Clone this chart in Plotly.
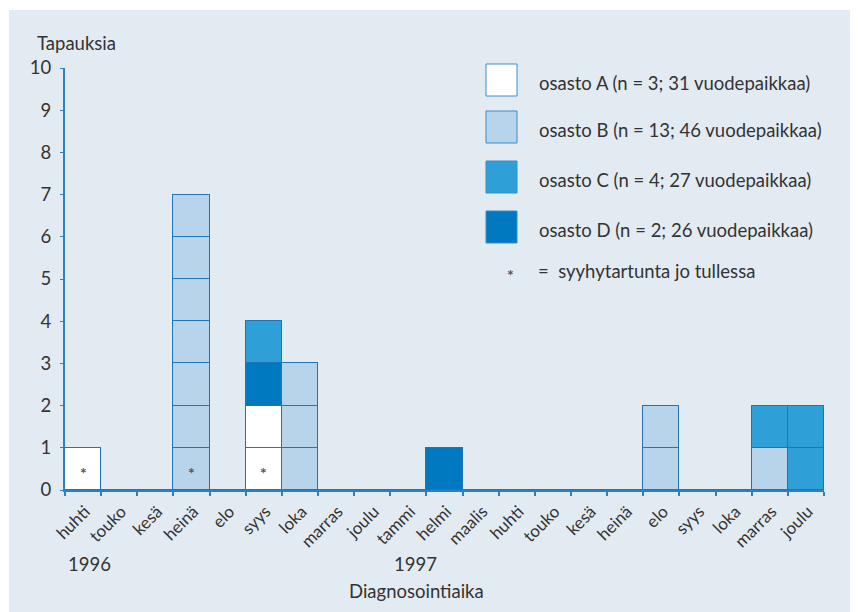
import plotly.graph_objects as go

# ---------------- data ----------------
months = ["huhti", "touko", "kesä", "heinä", "elo", "syys", "loka", "marras", "joulu",
          "tammi", "helmi", "maalis", "huhti", "touko", "kesä", "heinä", "elo", "syys",
          "loka", "marras", "joulu"]
years = ["1996"] * 9 + ["1997"] * 12
categories = [f"{y}-{m}" for y, m in zip(years, months)]

osasto_A = [1, 0, 0, 0, 0, 2, 0, 0, 0, 0, 0, 0, 0, 0, 0, 0, 0, 0, 0, 0, 0]
osasto_B = [0, 0, 0, 7, 0, 0, 3, 0, 0, 0, 0, 0, 0, 0, 0, 0, 2, 0, 0, 1, 0]
osasto_C = [0, 0, 0, 0, 0, 1, 0, 0, 0, 0, 0, 0, 0, 0, 0, 0, 0, 0, 0, 1, 2]
osasto_D = [0, 0, 0, 0, 0, 1, 0, 0, 0, 0, 1, 0, 0, 0, 0, 0, 0, 0, 0, 0, 0]

# months with a case infected already on arrival (asterisk in the bottom cell)
infected_on_arrival = ["1996-huhti", "1996-heinä", "1996-syys"]

legend_names = ["osasto A (n = 3; 31 vuodepaikkaa)",
                "osasto B (n = 13; 46 vuodepaikkaa)",
                "osasto C (n = 4; 27 vuodepaikkaa)",
                "osasto D (n = 2; 26 vuodepaikkaa)"]
legend_note = "=  syyhytartunta jo tullessa"

# ---------------- style ----------------
W, H = 858, 612
OX, OY = 8, 8                      # page offset of the figure (body margin)
L, R, T, B = 57, 42, 60, 130
PW, PH = W - L - R, H - T - B
BG = "#e3ebf2"
AXIS = "#2b7fc3"
EDGE = "#2274b9"
TXT = "#333333"
FONT = "Lato"
FS = 18.5
col = {"A": "#ffffff", "B": "#b8d4eb", "C": "#2ea0d7", "D": "#0079c1"}


def px(x):
    return (x - OX - L) / PW


def py(y):
    return (H - B - (y - OY)) / PH


fig = go.Figure()

# stack order bottom->top: A, B, D, C ; each department split into unit cells
for key, counts in [("A", osasto_A), ("B", osasto_B), ("D", osasto_D), ("C", osasto_C)]:
    for layer in range(max(counts)):
        vals = [1 if c > layer else 0 for c in counts]
        fig.add_trace(go.Bar(
            x=categories, y=vals, marker=dict(color=col[key], line=dict(color=EDGE, width=1)),
            showlegend=False, hoverinfo="skip", width=1.0))

for cat in infected_on_arrival:
    fig.add_annotation(x=cat, y=0.5, xref="x", yref="y", text="<b>*</b>", showarrow=False,
                       yshift=-4, font=dict(family=FONT, size=16, color="#555555"))

# background panel
fig.add_shape(type="rect", xref="paper", yref="paper", x0=px(9), x1=px(W + 20),
              y0=py(H + 20), y1=py(10), fillcolor=BG, line=dict(width=0), layer="below")

# legend
sw_tops = [64, 111, 161, 211]
for name, key, top in zip(legend_names, ["A", "B", "C", "D"], sw_tops):
    fig.add_shape(type="rect", xref="paper", yref="paper", x0=px(486), x1=px(517),
                  y0=py(top + 32), y1=py(top), fillcolor=col[key],
                  line=dict(color="#3a8cc9", width=1), layer="above")
    fig.add_annotation(xref="paper", yref="paper", x=px(537), y=py(top + 19), text=name,
                       showarrow=False, xanchor="left", yanchor="middle",
                       font=dict(family=FONT, size=FS, color=TXT))
fig.add_annotation(xref="paper", yref="paper", x=px(510), y=py(270), text="<b>*</b>",
                   showarrow=False, xanchor="center", yanchor="middle", yshift=-4,
                   font=dict(family=FONT, size=16, color="#555555"))
fig.add_annotation(xref="paper", yref="paper", x=px(536), y=py(271), text=legend_note,
                   showarrow=False, xanchor="left", yanchor="middle",
                   font=dict(family=FONT, size=FS, color=TXT))

# titles / year labels
fig.add_annotation(xref="paper", yref="paper", x=px(35), y=py(43), text="Tapauksia",
                   showarrow=False, xanchor="left", yanchor="middle",
                   font=dict(family=FONT, size=FS, color=TXT))
fig.add_annotation(xref="x", yref="paper", x="1996-huhti", xshift=6, y=py(564), text="1996",
                   showarrow=False, xanchor="center", yanchor="middle",
                   font=dict(family=FONT, size=FS, color=TXT))
fig.add_annotation(xref="x", yref="paper", x="1997-tammi", xshift=7, y=py(564), text="1997",
                   showarrow=False, xanchor="center", yanchor="middle",
                   font=dict(family=FONT, size=FS, color=TXT))
fig.add_annotation(xref="x", yref="paper", x="1997-tammi", xshift=8, y=py(591),
                   text="Diagnosointiaika", showarrow=False, xanchor="center", yanchor="middle",
                   font=dict(family=FONT, size=FS, color=TXT))

fig.update_layout(
    width=W, height=H, margin=dict(l=L, r=R, t=T, b=B),
    paper_bgcolor="white", plot_bgcolor="rgba(0,0,0,0)",
    barmode="stack", bargap=0, showlegend=False,
    font=dict(family=FONT, size=FS, color=TXT),
    xaxis=dict(type="category", categoryorder="array", categoryarray=categories,
               tickvals=categories, ticktext=months, tickangle=-45, tickson="boundaries",
               ticks="outside", ticklen=4, tickcolor=AXIS, tickwidth=1.5,
               showline=True, linecolor=AXIS, linewidth=2, showgrid=False,
               range=[-0.5, len(categories) - 0.5], ticklabelshift=2, ticklabelstandoff=3,
               tickfont=dict(family=FONT, size=17, color=TXT)),
    yaxis=dict(range=[0, 10], dtick=1, ticks="outside", ticklen=3, tickcolor=AXIS,
               showline=True, linecolor=AXIS, linewidth=2, showgrid=False, zeroline=False,
               ticklabelstandoff=5,
               tickfont=dict(family=FONT, size=FS, color=TXT)),
)

fig.write_html("out.html")
